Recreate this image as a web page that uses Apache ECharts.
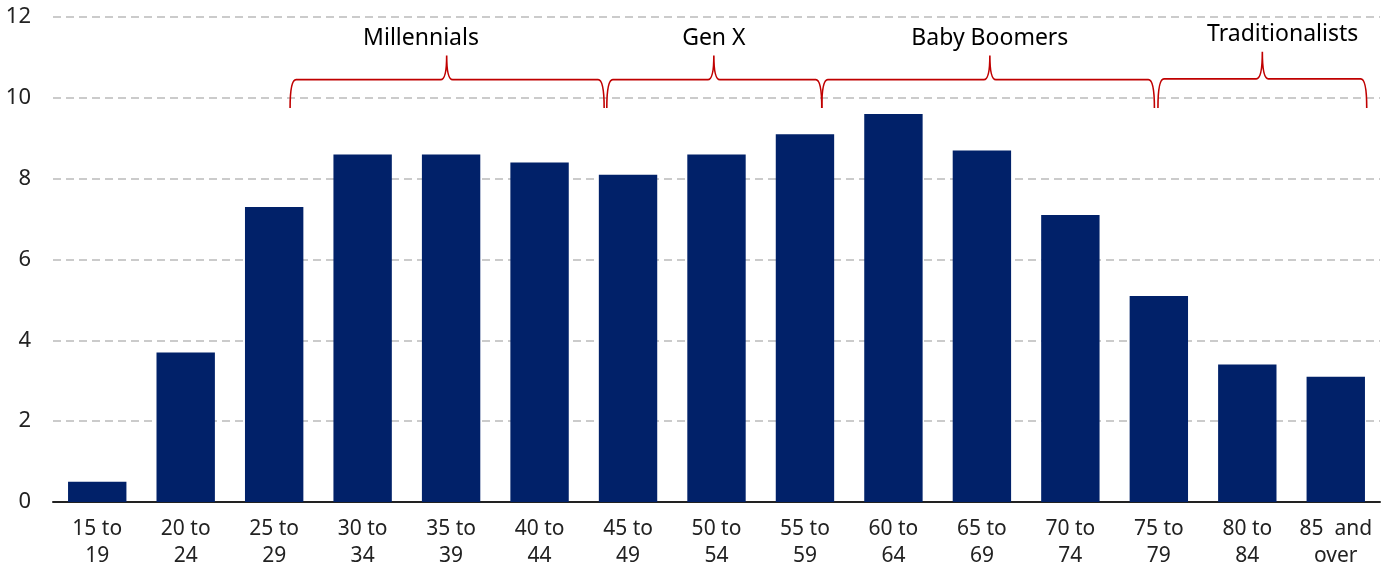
<!DOCTYPE html>
<html>
<head>
<meta charset="utf-8">
<script src="https://cdn.jsdelivr.net/npm/echarts@6/dist/echarts.min.js"></script>
<style>
html,body{margin:0;padding:0;background:#fff;}
#chart{width:1391px;height:573px;}
</style>
</head>
<body>
<div id="chart"></div>
<script>
const categories = ['15 to\n19','20 to\n24','25 to\n29','30 to\n34','35 to\n39','40 to\n44','45 to\n49','50 to\n54','55 to\n59','60 to\n64','65 to\n69','70 to\n74','75 to\n79','80 to\n84','85  and\nover'];
const values = [0.5, 3.7, 7.3, 8.6, 8.6, 8.4, 8.1, 8.6, 9.1, 9.6, 8.7, 7.1, 5.1, 3.4, 3.1];

// generation brackets (in category-index units)
const genNames = ['Millennials', 'Gen X', 'Baby Boomers', 'Traditionalists'];
const genStart = [2.18, 5.76, 8.19, 11.99];
const genEnd   = [5.73, 8.19, 11.95, 14.35];
const genPeak  = [3.95, 6.97, 10.09, 13.17];
const genLabel = [3.66, 6.97, 10.09, 13.40];
const bracketBottom = [9.75, 9.75, 9.75, 9.75];
const bracketMid    = [10.45, 10.45, 10.45, 10.47];
const bracketTop    = [11.05, 11.05, 11.05, 11.14];
const labelLevel    = [11.48, 11.48, 11.48, 11.57];

const bracketData = genNames.map((n, i) => [genStart[i], genEnd[i], genPeak[i], genLabel[i], bracketBottom[i], bracketMid[i], bracketTop[i], labelLevel[i], n]);

const chart = echarts.init(document.getElementById('chart'));
const font = '"Noto Sans", sans-serif';

function renderBracket(params, api) {
  const d = bracketData[params.dataIndex];
  const p0 = api.coord([0, 0]);
  const band = api.size([1, 0])[0];
  const xAt = (idx) => p0[0] + idx * band;
  const yAt = (v) => api.coord([0, v])[1];
  const x0 = xAt(d[0]), x1 = xAt(d[1]), xp = xAt(d[2]), xl = xAt(d[3]);
  const yb = yAt(d[4]), ym = yAt(d[5]), yt = yAt(d[6]), yl = yAt(d[7]);
  const r = 6;
  const path = `M${x0} ${yb} Q${x0} ${ym} ${x0 + r} ${ym} L${xp - r} ${ym} Q${xp} ${ym} ${xp} ${yt} Q${xp} ${ym} ${xp + r} ${ym} L${x1 - r} ${ym} Q${x1} ${ym} ${x1} ${yb}`;
  return {
    type: 'group',
    children: [
      { type: 'path', shape: { pathData: path }, style: { fill: null, stroke: '#C00000', lineWidth: 1.6 } },
      { type: 'text', style: { text: d[8], x: xl, y: yl, align: 'center', verticalAlign: 'middle', fill: '#000', font: '23px ' + font } }
    ]
  };
}

chart.setOption({
  animation: false,
  grid: { left: 53, right: 11, top: 17, bottom: 71 },
  xAxis: {
    type: 'category',
    data: categories,
    axisLine: { lineStyle: { color: '#222', width: 2 } },
    axisTick: { show: false },
    axisLabel: { color: '#222', fontSize: 21, fontFamily: font, lineHeight: 27, margin: 14, interval: 0 }
  },
  yAxis: {
    type: 'value',
    min: 0, max: 12, interval: 2,
    axisLine: { show: false },
    axisTick: { show: false },
    axisLabel: { color: '#222', fontSize: 22, fontFamily: font, margin: 22 },
    splitLine: { lineStyle: { color: '#bbb', type: [8, 5], width: 1.6 } }
  },
  series: [
    {
      type: 'bar',
      data: values,
      barWidth: '66%',
      itemStyle: { color: '#012169' }
    },
    {
      type: 'custom',
      renderItem: renderBracket,
      data: bracketData.map((d, i) => [i, 0]),
      encode: { x: 0, y: 1 },
      clip: false,
      silent: true,
      z: 5
    }
  ]
});
</script>
</body>
</html>
